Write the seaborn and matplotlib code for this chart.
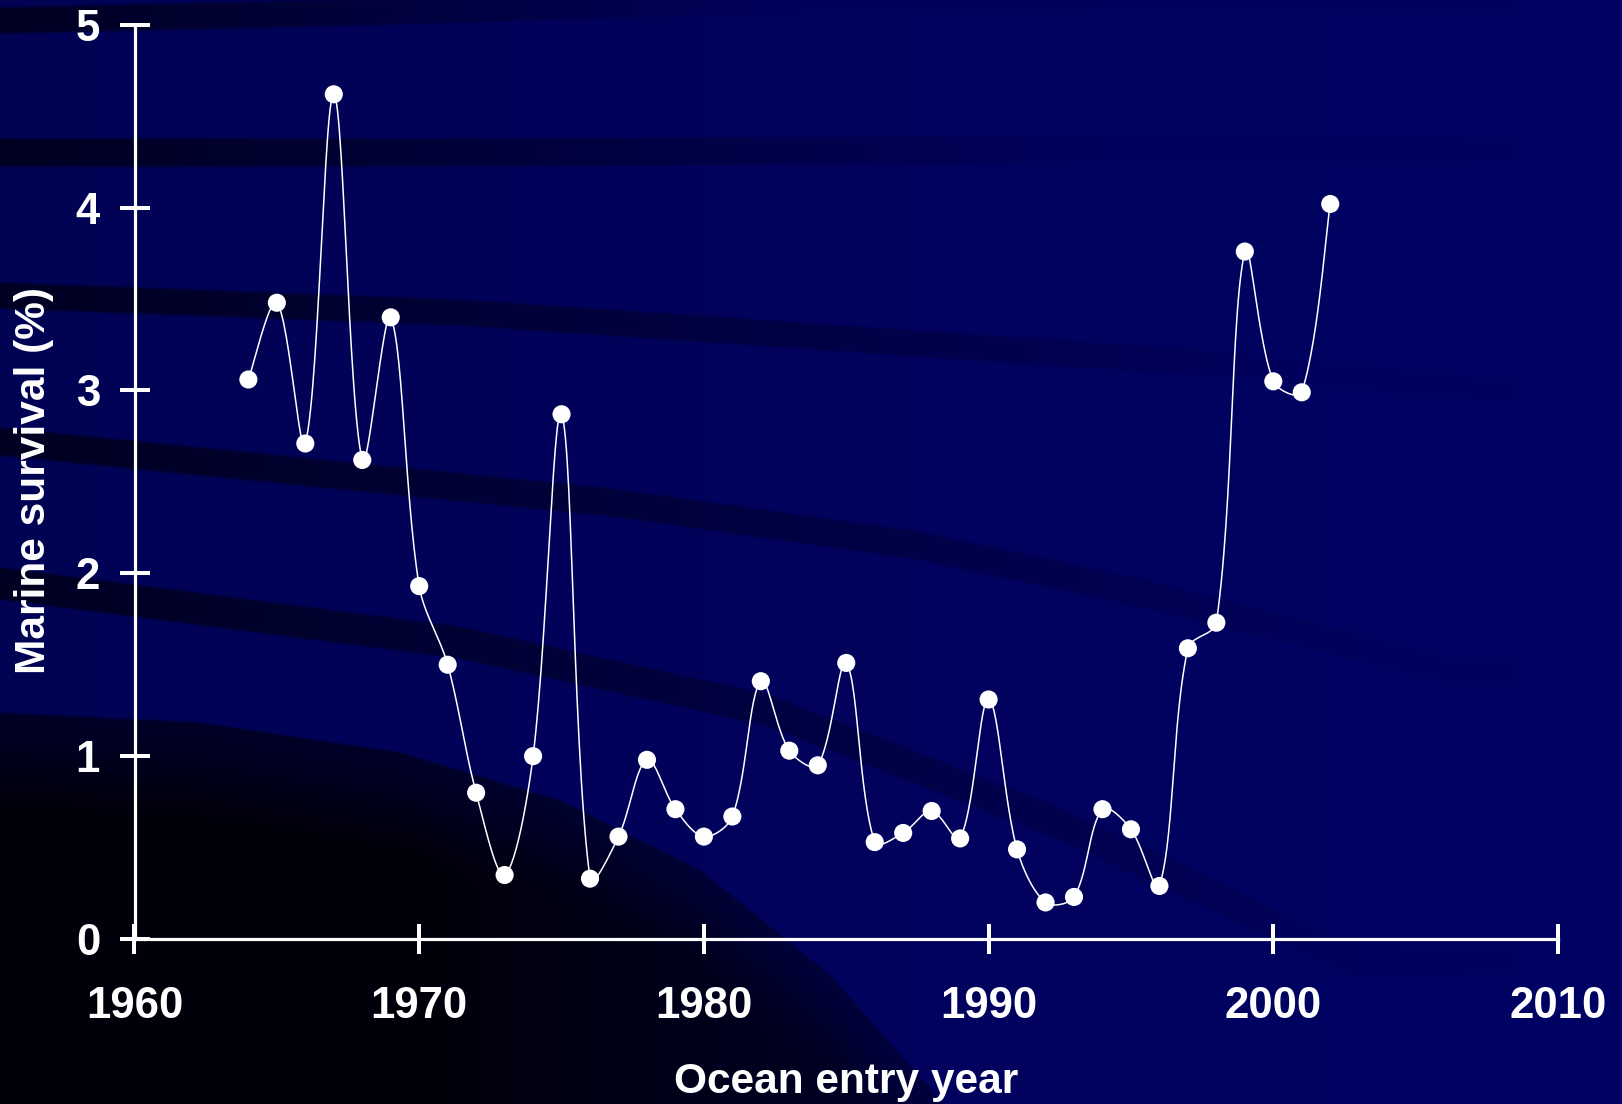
import numpy as np
import pandas as pd
import matplotlib
matplotlib.use("Agg")
import matplotlib.pyplot as plt
import seaborn as sns

# ----------------------------------------------------
# DATA
# ----------------------------------------------------

years = list(range(1964, 2003))
survival = [3.06, 3.48, 2.71, 4.62, 2.62, 3.40, 1.93, 1.50, 0.80, 0.35,
            1.00, 2.87, 0.33, 0.56, 0.98, 0.71, 0.56, 0.67, 1.41, 1.03,
            0.95, 1.51, 0.53, 0.58, 0.70, 0.55, 1.31, 0.49, 0.20, 0.23,
            0.71, 0.60, 0.29, 1.59, 1.73, 3.76, 3.05, 2.99, 4.02]

x_ticks = [1960, 1970, 1980, 1990, 2000, 2010]
y_ticks = [0, 1, 2, 3, 4, 5]
x_label = "Ocean entry year"
y_label = "Marine survival (%)"

W, H = 1622, 1104
FONT = "Liberation Sans"

# ----------------------------------------------------
# BACKGROUND (navy slide with dark swooshes)
# ----------------------------------------------------

def smoothstep(v):
    v = np.clip(v, 0, 1)
    return v * v * (3 - 2 * v)


def make_background():
    xx, yy = np.meshgrid(np.arange(W), np.arange(H))
    blue = 84 + 16 * xx / W
    dark = np.zeros((H, W))

    bands = [
        # x control pts, y centre pts, half width, strength, fade x
        ([0, 400, 800], [20, 11, 0], 13, 0.6, 800),
        ([0, 500, 1100], [152, 152, 149], 14, 0.6, 1150),
        ([0, 459, 918, 1200, 1500], [295, 312, 343, 362, 390], 13, 0.6, 1400),
        ([0, 612, 918, 1148, 1450], [441, 502, 545, 594, 670], 14, 0.6, 1500),
        ([0, 459, 765, 1059, 1350], [583, 642, 709, 823, 960], 16, 0.6, 1500),
    ]
    for bx, by, hw, strength, fade in bands:
        yc = np.interp(xx, bx, by)
        edge = smoothstep((hw + 2 - np.abs(yy - yc)) / 4)
        f = np.clip(1 - xx / fade, 0.05, 1)
        dark = np.maximum(dark, strength * edge * f)

    # big dark region in lower left
    ex = [0, 200, 400, 560, 700, 830, 944, 1000]
    ey = [712, 722, 752, 800, 870, 975, 1104, 1200]
    top = np.interp(xx, ex, ey)
    depth = yy - top
    region = smoothstep((depth + 2) / 4) * (0.55 + 0.33 * smoothstep(depth / 110))
    region *= np.clip(1.3 - xx / 1400, 0, 1)
    dark = np.maximum(dark, region)

    img = np.zeros((H, W, 3))
    img[..., 2] = blue * (1 - dark) / 255
    img[..., 1] = 2 * (1 - dark) / 255
    return img

# ----------------------------------------------------
# SMOOTHED LINE (Excel-style Bezier through the points,
# tangents weighted by neighbouring segment lengths on screen)
# ----------------------------------------------------

def smooth_curve(xs, ys, sx, sy, n=30):
    pts = np.column_stack([np.asarray(xs, float) * sx, np.asarray(ys, float) * sy])
    m = len(pts)
    seglen = np.hypot(*np.diff(pts, axis=0).T)
    fwd = np.zeros_like(pts)
    bwd = np.zeros_like(pts)
    for i in range(1, m - 1):
        tan = pts[i + 1] - pts[i - 1]
        dp, dn = seglen[i - 1], seglen[i]
        fwd[i] = tan * dn / (dp + dn) / 3
        bwd[i] = tan * dp / (dp + dn) / 3
    # end tangents
    fwd[0] = (pts[1] - pts[0]) / 3 * 0.5
    bwd[-1] = (pts[-1] - pts[-2]) / 3 * 0.5
    t = np.linspace(0, 1, n)[:, None]
    out = []
    for i in range(m - 1):
        p1, p2 = pts[i], pts[i + 1]
        c1 = p1 + fwd[i]
        c2 = p2 - bwd[i + 1]
        seg = ((1 - t) ** 3) * p1 + 3 * ((1 - t) ** 2) * t * c1 \
            + 3 * (1 - t) * (t ** 2) * c2 + (t ** 3) * p2
        out.append(seg if i == 0 else seg[1:])
    seg = np.vstack(out)
    return seg[:, 0] / sx, seg[:, 1] / sy

# ----------------------------------------------------
# PLOT
# ----------------------------------------------------

sns.set_theme(style="white")
plt.rcParams["font.family"] = [FONT, "DejaVu Sans"]
plt.rcParams["font.weight"] = "bold"

fig = plt.figure(figsize=(W / 100, H / 100), dpi=100)

bg = fig.add_axes([0, 0, 1, 1], zorder=0)
bg.imshow(make_background(), aspect="auto", interpolation="bilinear")
bg.axis("off")

left, right = 134.5 / W, 1558 / W
bottom, top = 1 - 939 / H, 1 - 24.8 / H
ax = fig.add_axes([left, bottom, right - left, top - bottom], zorder=1)
ax.set_facecolor("none")

df = pd.DataFrame({"year": years, "survival": survival})
px_per_year = (1558 - 134.5) / 50
px_per_unit = (939 - 24.8) / 5
cx, cy = smooth_curve(df["year"], df["survival"], px_per_year, px_per_unit)
curve = pd.DataFrame({"year": cx, "survival": cy})

sns.lineplot(data=curve, x="year", y="survival", sort=False, estimator=None,
             color="white", linewidth=1.1, ax=ax, zorder=3)
sns.scatterplot(data=df, x="year", y="survival", s=170, color="white",
                edgecolor="none", ax=ax, zorder=4, clip_on=False)

ax.set_xlim(1960, 2010)
ax.set_ylim(0, 5)
ax.set_xticks(x_ticks)
ax.set_yticks(y_ticks)

for side in ["top", "right"]:
    ax.spines[side].set_visible(False)
for side in ["left", "bottom"]:
    ax.spines[side].set_color("white")
    ax.spines[side].set_linewidth(2.3)

ax.tick_params(axis="both", direction="inout", length=21.6, width=2.9,
               colors="white", labelsize=31.5, bottom=True, left=True)
ax.tick_params(axis="x", pad=23)
ax.tick_params(axis="y", pad=14)
for lbl in ax.get_xticklabels() + ax.get_yticklabels():
    lbl.set_fontweight("bold")

ax.set_xlabel(x_label, color="white", fontsize=30.5, fontweight="bold", va="center")
ax.set_ylabel(y_label, color="white", fontsize=30.5, fontweight="bold", va="center")
ax.xaxis.set_label_coords(0.5, (939 - 1082) / 914.2)
ax.yaxis.set_label_coords((34 - 134.5) / 1423.5, 0.501)
ax.grid(False)

fig.savefig("out.png", dpi=100)
plt.close(fig)
